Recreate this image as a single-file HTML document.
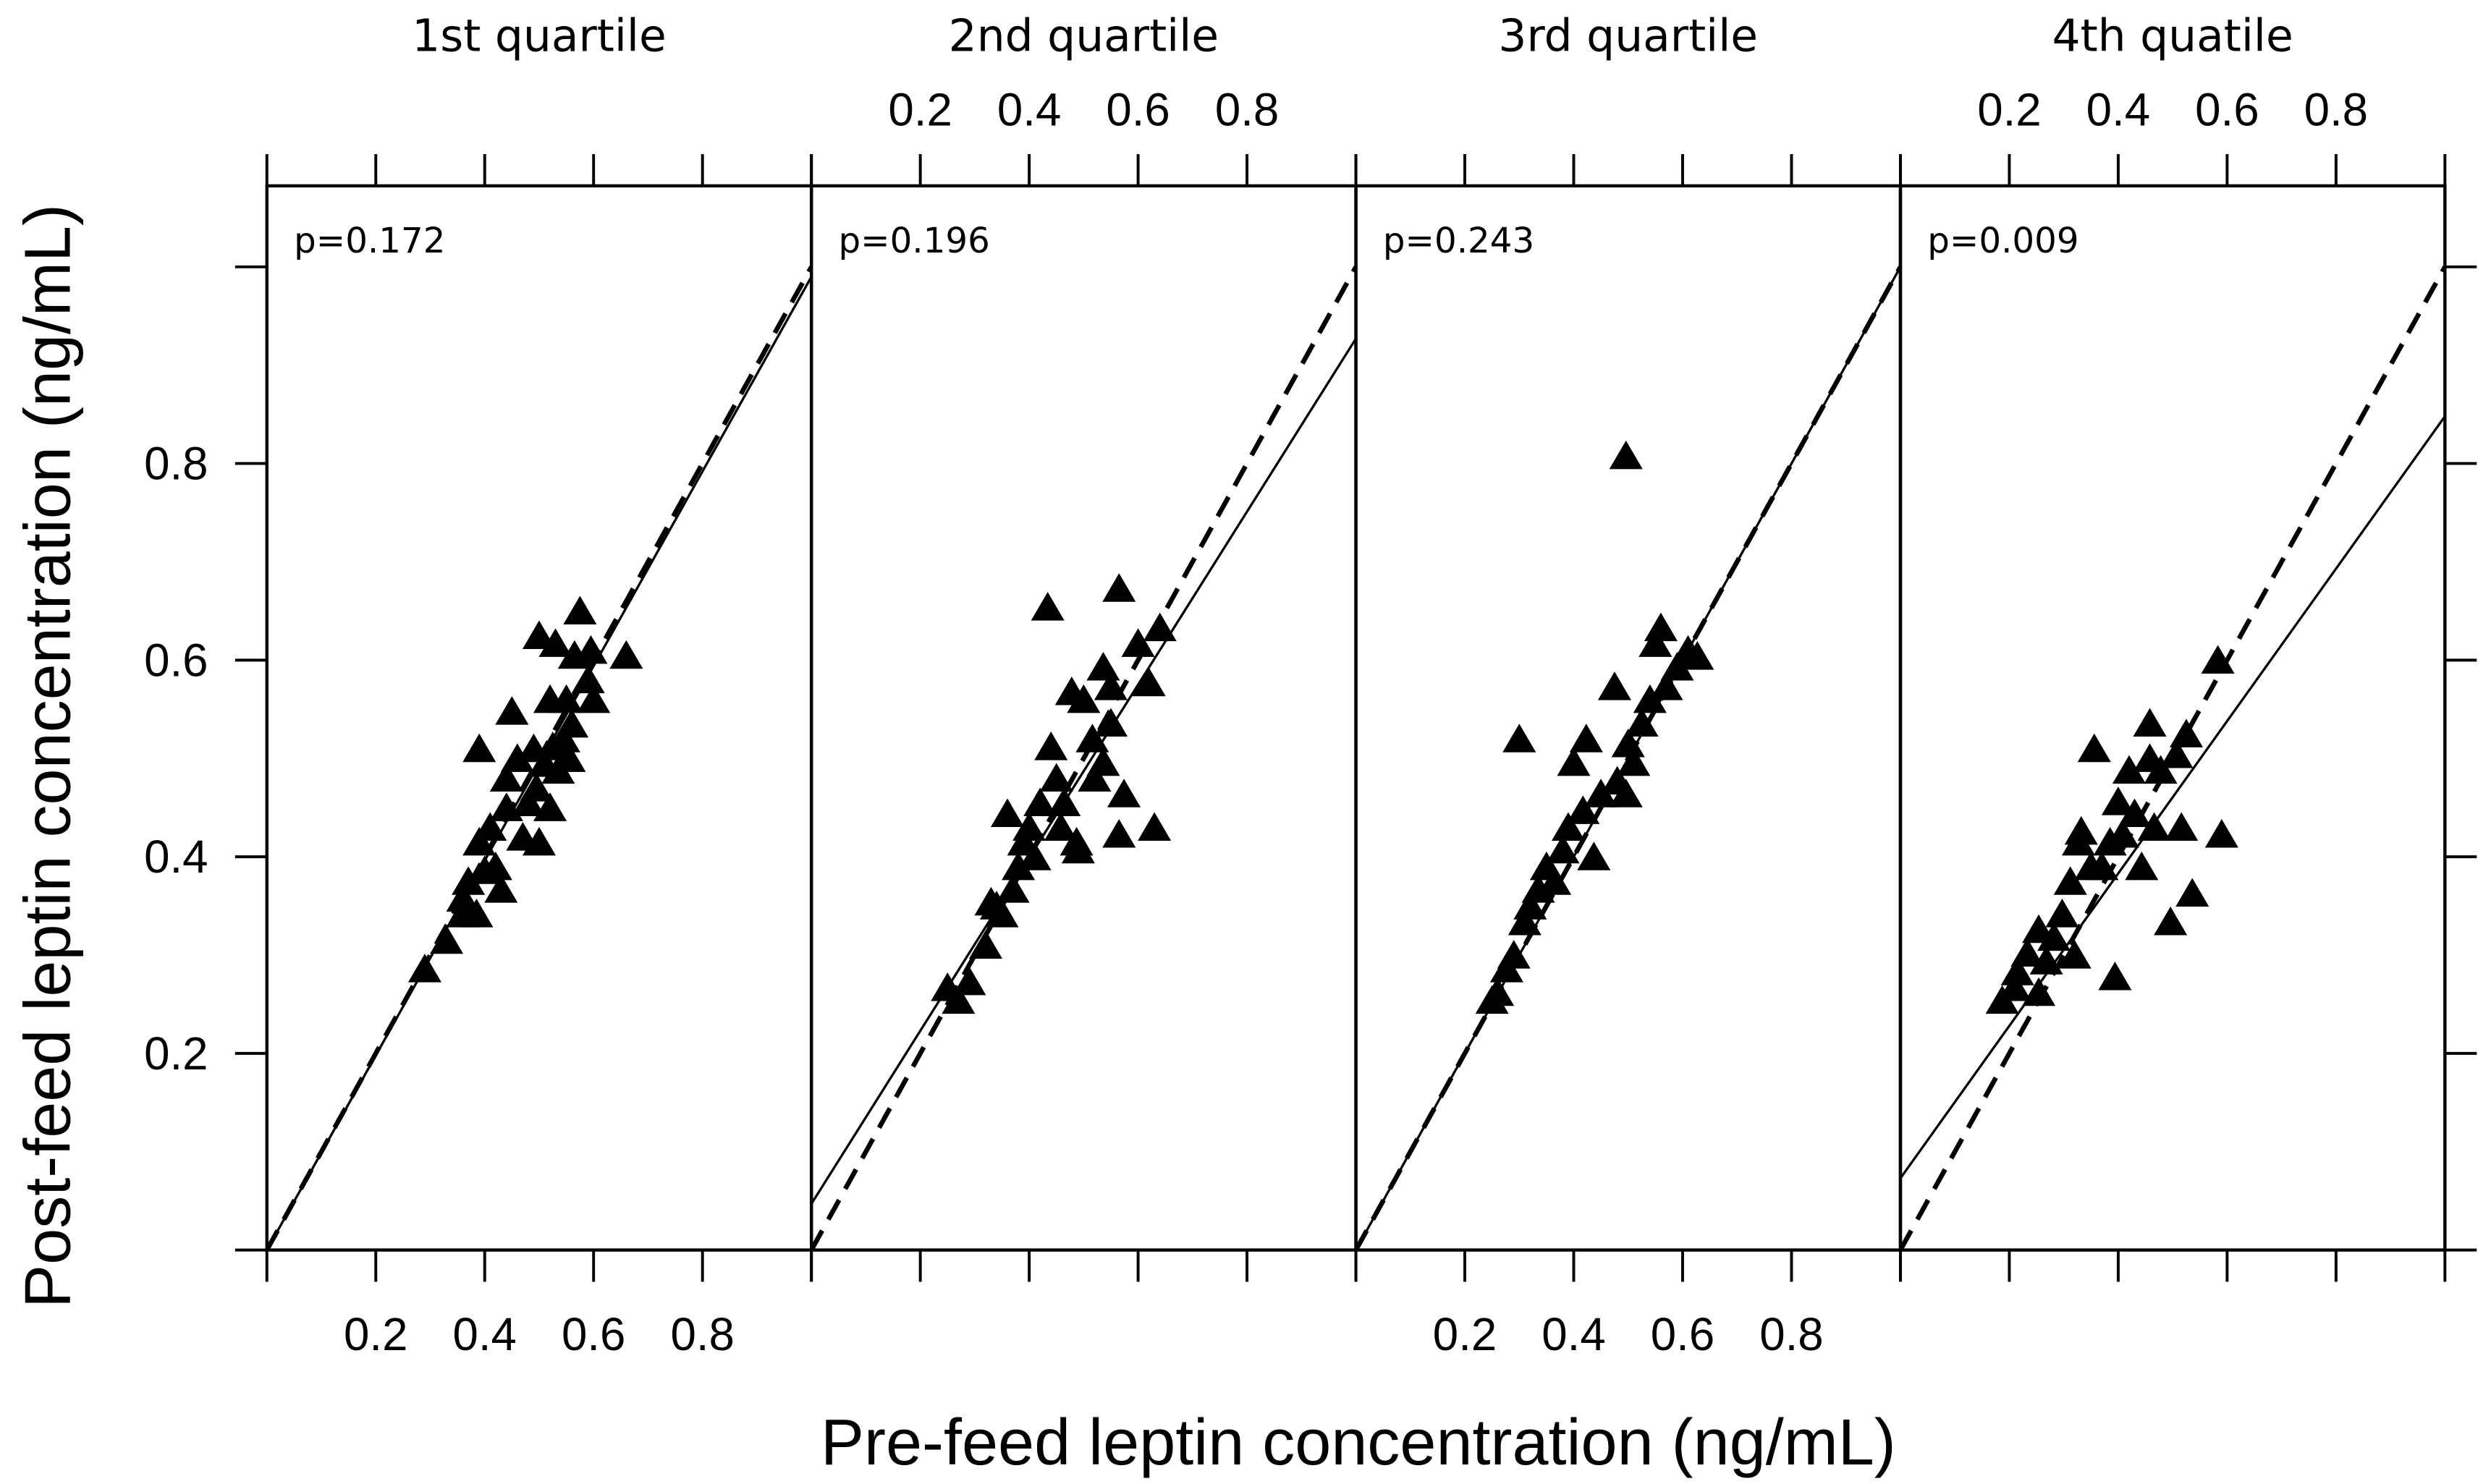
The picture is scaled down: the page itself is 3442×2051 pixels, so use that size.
<!DOCTYPE html>
<html><head><meta charset="utf-8"><style>
html,body{margin:0;padding:0;background:#fff;}
svg{display:block;font-family:"Liberation Sans",sans-serif;}
</style></head><body>
<svg id="chart" width="3442" height="2051" viewBox="0 0 1568 934.3" xmlns="http://www.w3.org/2000/svg">
<rect x="0" y="0" width="1568" height="934.3" fill="#fff"/>
<g id="root"></g>
</svg>
<script>
const panelTitles = ["1st quartile","2nd quartile","3rd quartile","4th quatile"];
const pLabels = ["p=0.172","p=0.196","p=0.243","p=0.009"];
const tickValues = [0,0.2,0.4,0.6,0.8,1.0];
const tickLabels = ["0.2","0.4","0.6","0.8"];
const regIntercepts = [0.0,0.047,0.0,0.073];
const regSlopes = [0.99,0.88,1.0,0.775];
const q1x = [.29,.33,.36,.36,.37,.385,.40,.39,.41,.42,.43,.39,.44,.44,.45,.46,.47,.48,.49,.50,.51,.52,.52,.525,.53,.535,.545,.555,.55,.565,.575,.59,.595,.60,.66,.56,.50,.495];
const q1y = [.286,.315,.342,.358,.375,.342,.386,.415,.43,.39,.367,.51,.45,.48,.548,.50,.42,.455,.51,.625,.495,.45,.56,.512,.617,.488,.52,.50,.56,.605,.65,.58,.61,.56,.605,.535,.415,.47];
const q2x = [.25,.27,.29,.32,.33,.34,.35,.37,.36,.38,.39,.40,.41,.42,.434,.44,.45,.458,.464,.478,.487,.49,.50,.516,.52,.536,.55,.565,.55,.574,.565,.60,.62,.63,.64,.536];
const q2y = [.267,.254,.273,.31,.354,.35,.342,.367,.444,.39,.415,.43,.40,.455,.654,.512,.48,.43,.455,.568,.415,.407,.56,.52,.48,.496,.536,.673,.573,.464,.423,.617,.577,.43,.633,.593];
const q3x = [.25,.26,.277,.29,.30,.31,.32,.335,.35,.365,.38,.39,.40,.417,.423,.437,.45,.475,.48,.496,.496,.51,.525,.54,.55,.56,.57,.59,.61,.627,.50];
const q3y = [.254,.262,.286,.30,.52,.334,.35,.367,.39,.375,.407,.43,.496,.447,.52,.40,.464,.573,.477,.464,.808,.496,.536,.56,.617,.633,.573,.593,.61,.604,.515];
const q4x = [.187,.21,.215,.233,.254,.268,.254,.282,.297,.312,.32,.327,.332,.356,.37,.385,.394,.40,.408,.42,.43,.443,.458,.466,.478,.496,.507,.516,.525,.536,.583,.59,.458,.35];
const q4y = [.254,.267,.283,.302,.326,.294,.262,.318,.342,.375,.30,.415,.426,.51,.39,.415,.278,.456,.423,.488,.444,.39,.536,.43,.488,.334,.504,.43,.525,.363,.60,.423,.50,.39];
const seriesX = [q1x,q2x,q3x,q4x];
const seriesY = [q1y,q2y,q3y,q4y];

const NS = "http://www.w3.org/2000/svg";
const root = document.getElementById("root");
const P0 = 168, PW = 342.75, Y0 = 787, YH = 619, TOP = 117;
function xs(i, v){ return P0 + i*PW + v*PW; }
function ys(v){ return Y0 - v*YH; }
function mk(tag, attrs, parent){ const e = document.createElementNS(NS, tag); for (const k in attrs) e.setAttribute(k, attrs[k]); (parent||root).appendChild(e); return e; }

for (let i=0;i<4;i++){
  const g = mk("g",{});
  
  
  const clip = mk("clipPath",{id:"c"+i}, g);
  mk("rect",{x:xs(i,0),y:TOP,width:PW,height:Y0-TOP}, clip);
  const dl = mk("line",{x1:xs(i,0),y1:ys(0),x2:xs(i,1),y2:ys(1),stroke:"#000","stroke-width":3,"stroke-dasharray":"14,8","clip-path":"url(#c"+i+")"}, g);
  
  
  const rl = mk("line",{x1:xs(i,0),y1:ys(regIntercepts[i]),x2:xs(i,1),y2:ys(regIntercepts[i]+regSlopes[i]),stroke:"#000","stroke-width":1.5,"clip-path":"url(#c"+i+")"}, g);
  
  
  const xsArr = seriesX[i], ysArr = seriesY[i];
  for (let k=0;k<xsArr.length;k++){
    const cx = xs(i,xsArr[k]), cy = ys(ysArr[k]);
    const t = mk("polygon",{points:(cx-10.5)+","+(cy+8.5)+" "+(cx+10.5)+","+(cy+8.5)+" "+cx+","+(cy-9.5),fill:"#000"}, g);
    
    
  }
  const fr = mk("rect",{x:xs(i,0),y:TOP,width:PW,height:Y0-TOP,fill:"none",stroke:"#000","stroke-width":2}, g);
  
  
  for (const v of tickValues){
    mk("line",{x1:xs(i,v),y1:97,x2:xs(i,v),y2:TOP,stroke:"#000","stroke-width":1.8}, g);
    mk("line",{x1:xs(i,v),y1:Y0,x2:xs(i,v),y2:807,stroke:"#000","stroke-width":1.8}, g);
  }
  for (let k=0;k<tickLabels.length;k++){
    const v = parseFloat(tickLabels[k]);
    const ty = (i%2===0) ? 850 : 79;
    const tl = mk("text",{x:xs(i,v),y:ty,"font-size":29,"text-anchor":"middle"}, g);
    tl.textContent = tickLabels[k];
    
    
  }
  const tt = mk("text",{x:xs(i,0.5),y:32,"font-size":28,"text-anchor":"middle","font-family":"DejaVu Sans, sans-serif"}, g);
  tt.textContent = panelTitles[i];
  
  
  const pl = mk("text",{x:xs(i,0)+17,y:159,"font-size":22,"font-family":"DejaVu Sans, sans-serif"}, g);
  pl.textContent = pLabels[i];
  
  
}
for (const v of tickValues){
  mk("line",{x1:148,y1:ys(v),x2:P0,y2:ys(v),stroke:"#000","stroke-width":1.8});
  mk("line",{x1:P0+4*PW,y1:ys(v),x2:P0+4*PW+20,y2:ys(v),stroke:"#000","stroke-width":1.8});
}
for (const lab of tickLabels){
  const t = mk("text",{x:131,y:ys(parseFloat(lab))+10,"font-size":29,"text-anchor":"end"});
  t.textContent = lab;
  
  
}
const yt = mk("text",{x:0,y:0,"font-size":41,"text-anchor":"middle",transform:"translate(44,476) rotate(-90)"});
yt.textContent = "Post-feed leptin concentration (ng/mL)";


const xt = mk("text",{x:855,y:922,"font-size":41,"text-anchor":"middle"});
xt.textContent = "Pre-feed leptin concentration (ng/mL)";


</script>
</body></html>
